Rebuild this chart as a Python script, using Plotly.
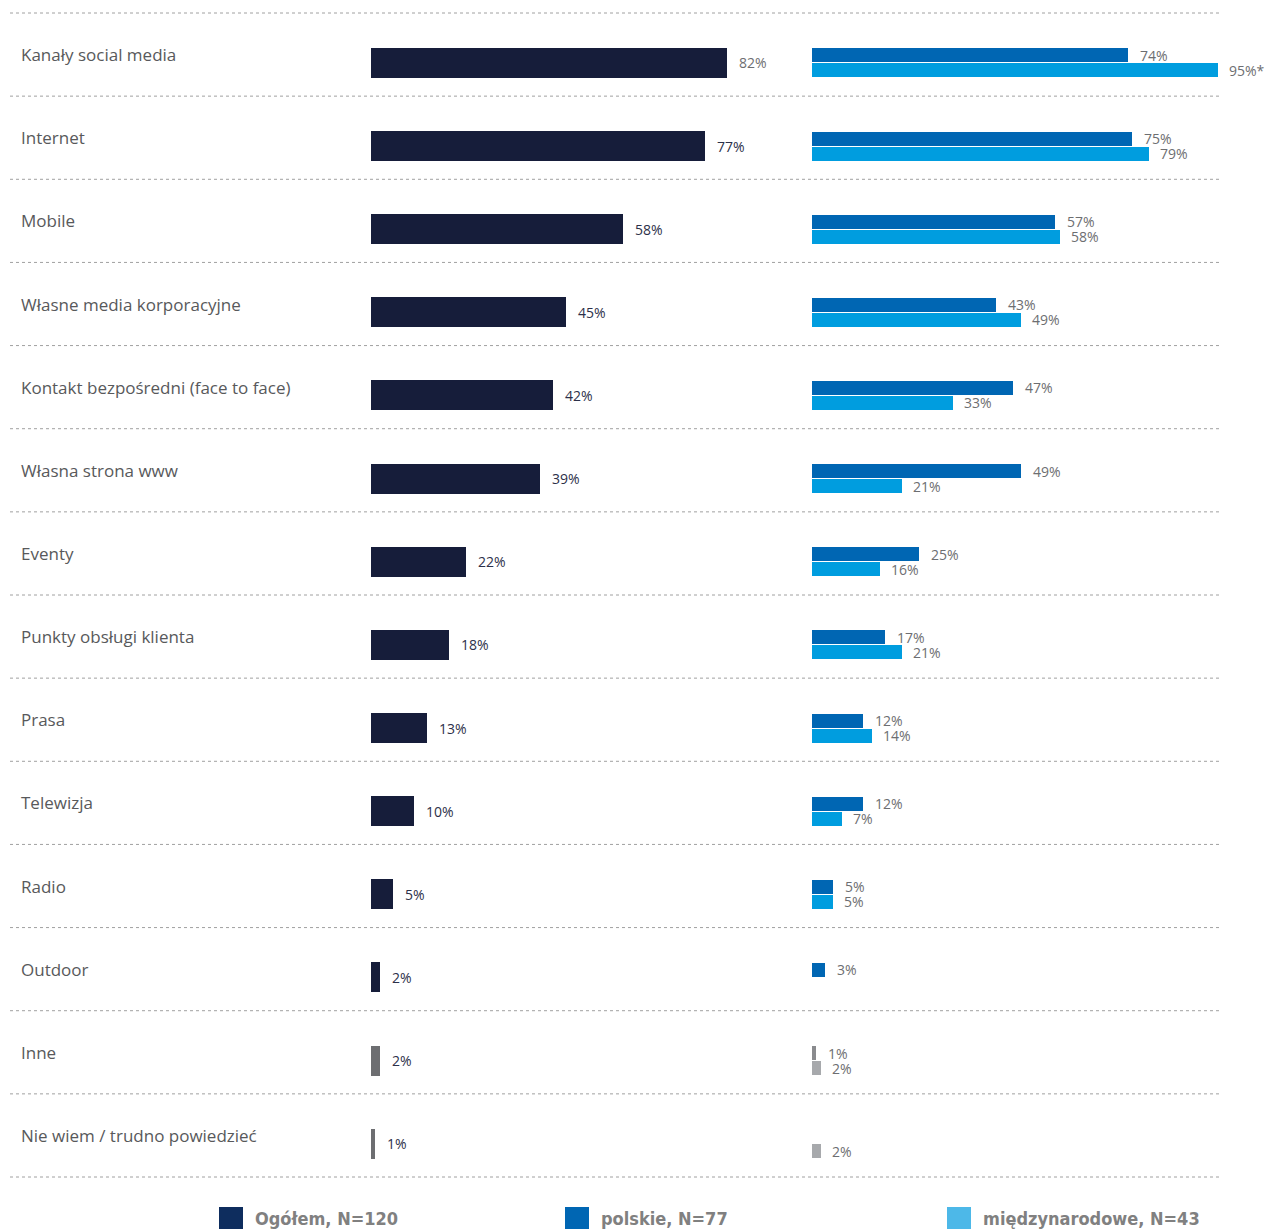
import plotly.graph_objects as go

# Survey data: communication channels used (% of respondents)
categories = [
    "Kanały social media",
    "Internet",
    "Mobile",
    "Własne media korporacyjne",
    "Kontakt bezpośredni (face to face)",
    "Własna strona www",
    "Eventy",
    "Punkty obsługi klienta",
    "Prasa",
    "Telewizja",
    "Radio",
    "Outdoor",
    "Inne",
    "Nie wiem / trudno powiedzieć",
]
ogolem = [82, 77, 58, 45, 42, 39, 22, 18, 13, 10, 5, 2, 2, 1]
polskie = [74, 75, 57, 43, 47, 49, 25, 17, 12, 12, 5, 3, 1, None]
miedzynarodowe = [95, 79, 58, 49, 33, 21, 16, 21, 14, 7, 5, None, 2, 2]
miedzynarodowe_labels = ["95%*", "79%", "58%", "49%", "33%", "21%", "16%",
                         "21%", "14%", "7%", "5%", None, "2%", "2%"]
legend_labels = ["Ogółem, N=120", "polskie, N=77", "międzynarodowe, N=43"]

W, H = 1265, 1229
n = len(categories)

# Colours
NAVY = "#161d3a"
BLUE_D = "#0066b3"
BLUE_L = "#009ddf"
GREY_L_BAR = "#6d6e71"
GREY_R_D = "#8a8b8e"
GREY_R_L = "#a7a9ac"
grey_rows = {"Inne", "Nie wiem / trudno powiedzieć"}

# Vertical geometry: rows are one unit apart; separators sit at i +/- 0.5
top_sep_px, bottom_sep_px = 13, 1177
row_px = (bottom_sep_px - top_sep_px) / n
y_top = -0.5 - top_sep_px / row_px
y_bottom = n - 0.5 + (H - bottom_sep_px) / row_px
bar_shift = 0.10          # bars sit slightly below the label line
pair_half = 7.5 / row_px  # half spacing of the paired right bars

y_rows = list(range(n))
y_left = [i + bar_shift for i in y_rows]
y_pol = [i + bar_shift - pair_half for i in y_rows]
y_mie = [i + bar_shift + pair_half for i in y_rows]

left_colors = [GREY_L_BAR if c in grey_rows else NAVY for c in categories]
pol_colors = [GREY_R_D if c in grey_rows else BLUE_D for c in categories]
mie_colors = [GREY_R_L if c in grey_rows else BLUE_L for c in categories]

fig = go.Figure()

fig.add_trace(go.Bar(
    x=ogolem, y=y_left, orientation="h", xaxis="x", yaxis="y",
    width=30 / row_px, marker=dict(color=left_colors, line=dict(width=0)),
    hoverinfo="skip", showlegend=False,
))
fig.add_trace(go.Bar(
    x=[v if v is not None else 0 for v in polskie], y=y_pol, orientation="h",
    xaxis="x2", yaxis="y", width=14 / row_px,
    marker=dict(color=pol_colors, line=dict(width=0)),
    hoverinfo="skip", showlegend=False,
))
fig.add_trace(go.Bar(
    x=[v if v is not None else 0 for v in miedzynarodowe], y=y_mie,
    orientation="h", xaxis="x2", yaxis="y", width=14 / row_px,
    marker=dict(color=mie_colors, line=dict(width=0)),
    hoverinfo="skip", showlegend=False,
))

annotations = []
label_font = "Open Sans, Noto Sans, sans-serif"

# Category labels
for i, c in enumerate(categories):
    annotations.append(dict(
        x=19 / W, xref="paper", y=i, yref="y", text=c, showarrow=False,
        xanchor="left", yanchor="middle",
        font=dict(family=label_font, size=17, color="#58595b"),
    ))

# Value labels – left panel
for i, v in enumerate(ogolem):
    annotations.append(dict(
        x=v, xref="x", y=y_left[i], yref="y", text=f"{v}%", showarrow=False,
        xanchor="left", yanchor="middle", xshift=10,
        font=dict(family=label_font, size=14,
                  color="#6d6e71" if i == 0 else "#2c3049"),
    ))

# Value labels – right panel
for i, v in enumerate(polskie):
    if v is None:
        continue
    annotations.append(dict(
        x=v, xref="x2", y=y_pol[i], yref="y", text=f"{v}%", showarrow=False,
        xanchor="left", yanchor="middle", xshift=10,
        font=dict(family=label_font, size=14, color="#6d6e71"),
    ))
for i, v in enumerate(miedzynarodowe):
    if v is None:
        continue
    annotations.append(dict(
        x=v, xref="x2", y=y_mie[i], yref="y", text=miedzynarodowe_labels[i],
        showarrow=False, xanchor="left", yanchor="middle", xshift=9,
        font=dict(family=label_font, size=14, color="#6d6e71"),
    ))

# Dotted row separators
shapes = []
for k in range(n + 1):
    shapes.append(dict(
        type="line", xref="paper", yref="y", x0=10 / W, x1=1220 / W,
        y0=k - 0.5, y1=k - 0.5,
        line=dict(color="#a0a0a0", width=1, dash="dot"),
    ))

# Legend swatches and labels along the bottom edge
legend_colors = ["#0e2d5e", "#0066b3", "#4db8e8"]
legend_x = [219, 565, 947]
for lx, col, lab in zip(legend_x, legend_colors, legend_labels):
    shapes.append(dict(
        type="rect", xref="paper", yref="paper",
        x0=lx / W, x1=(lx + 24) / W, y0=0, y1=(H - 1207) / H,
        fillcolor=col, line=dict(width=0),
    ))
    annotations.append(dict(
        x=(lx + 34) / W, xref="paper", y=(H - 1218) / H, yref="paper",
        text=f"<b>{lab}</b>", showarrow=False, xanchor="left",
        yanchor="middle",
        font=dict(family="DejaVu Sans Condensed, sans-serif", size=18,
                  color="#808080"),
    ))

fig.update_layout(
    width=W, height=H,
    margin=dict(l=0, r=0, t=0, b=0),
    paper_bgcolor="white", plot_bgcolor="white",
    barmode="overlay", bargap=0,
    xaxis=dict(domain=[371 / W, 805 / W], range=[0, 100], visible=False,
               fixedrange=True),
    xaxis2=dict(domain=[812 / W, 1239 / W], range=[0, 100], visible=False,
                fixedrange=True, anchor="y"),
    yaxis=dict(range=[y_bottom, y_top], visible=False, fixedrange=True),
    shapes=shapes,
    annotations=annotations,
    showlegend=False,
)

fig.write_html("out.html")
